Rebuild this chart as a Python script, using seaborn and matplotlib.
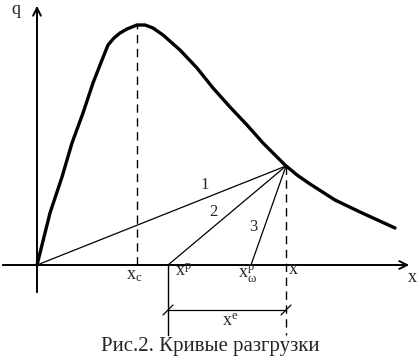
import matplotlib.pyplot as plt
import seaborn as sns
import pandas as pd

sns.set_style("white")
plt.rcParams["font.family"] = ["Liberation Serif", "DejaVu Serif"]
plt.rcParams["mathtext.fontset"] = "custom"
plt.rcParams["mathtext.rm"] = "Liberation Serif"
plt.rcParams["mathtext.it"] = "Liberation Serif"

# unloading curve q(x), origin at (0, 0)
curve_x = [0, 13, 25, 35, 46, 56, 65, 71, 77, 83, 90, 100, 108, 116, 126, 143, 160, 176, 193,
           210, 226, 248, 260, 273, 298, 323, 358]
curve_y = [0, 52, 88, 122, 152, 182, 205, 220, 227, 232, 236, 240, 240, 237, 230, 215, 197, 177,
           158, 140, 122, 100, 90, 81, 65, 53, 37]

x_c = 100          # peak of the curve
x_pt = 249         # unloading point x
q_pt = 99          # q at unloading point
x_p = 131          # x^p
x_pw = 214         # x^p_omega
line_starts = [0, x_p, x_pw]
line_names = ["1", "2", "3"]
name_pos = [(168, 80), (176, 53), (216, 38)]

fig = plt.figure(figsize=(4.2, 3.6), dpi=100)
ax = fig.add_axes([0, 0, 1, 1])
ax.set_xlim(-37, 383)
ax.set_ylim(-95, 265)
ax.axis("off")

df = pd.DataFrame({"x": curve_x, "q": curve_y})
sns.lineplot(data=df, x="x", y="q", sort=False, color="black", lw=2.4, ax=ax)

# axes with open arrows
ax.annotate("", xy=(375, 0), xytext=(-37, 0),
            arrowprops=dict(arrowstyle="->", lw=1.4, color="black", mutation_scale=14))
ax.annotate("", xy=(0, 262), xytext=(0, -30),
            arrowprops=dict(arrowstyle="->", lw=1.4, color="black", mutation_scale=14))

# dashed guides
ax.plot([x_c, x_c], [0, 240], color="black", lw=1, ls=(0, (6, 4)))
ax.plot([x_pt, x_pt], [q_pt, -70], color="black", lw=1, ls=(0, (6, 4)))
ax.plot([x_p, x_p], [0, -70], color="black", lw=1)

# unloading lines
for s, name, pos in zip(line_starts, line_names, name_pos):
    ax.plot([s, x_pt], [0, q_pt], color="black", lw=0.9)
    ax.text(pos[0], pos[1], name, fontsize=12, ha="center", va="center")

# x^e bracket
ax.plot([x_p, x_pt], [-45, -45], color="black", lw=0.9)
for xb in [x_p, x_pt]:
    ax.plot([xb - 5, xb + 5], [-50, -40], color="black", lw=0.9)

ax.text(97, -10, "$x_c$", fontsize=13, ha="center", va="center")
ax.text(147, -7, "$x^p$", fontsize=13, ha="center", va="center")
ax.text(210, -9, r"$x^p_\omega$", fontsize=13, ha="center", va="center")
ax.text(256, -4, "x", fontsize=13, ha="center", va="center")
ax.text(193, -56, "$x^e$", fontsize=13, ha="center", va="center")
ax.text(-21, 255, "q", fontsize=13, ha="center", va="center")
ax.text(375, -13, "x", fontsize=13, ha="center", va="center")

ax.text(173, -82, "Рис.2. Кривые разгрузки", fontsize=15, ha="center", va="center")

plt.savefig("out.png", dpi=100)
plt.close()
